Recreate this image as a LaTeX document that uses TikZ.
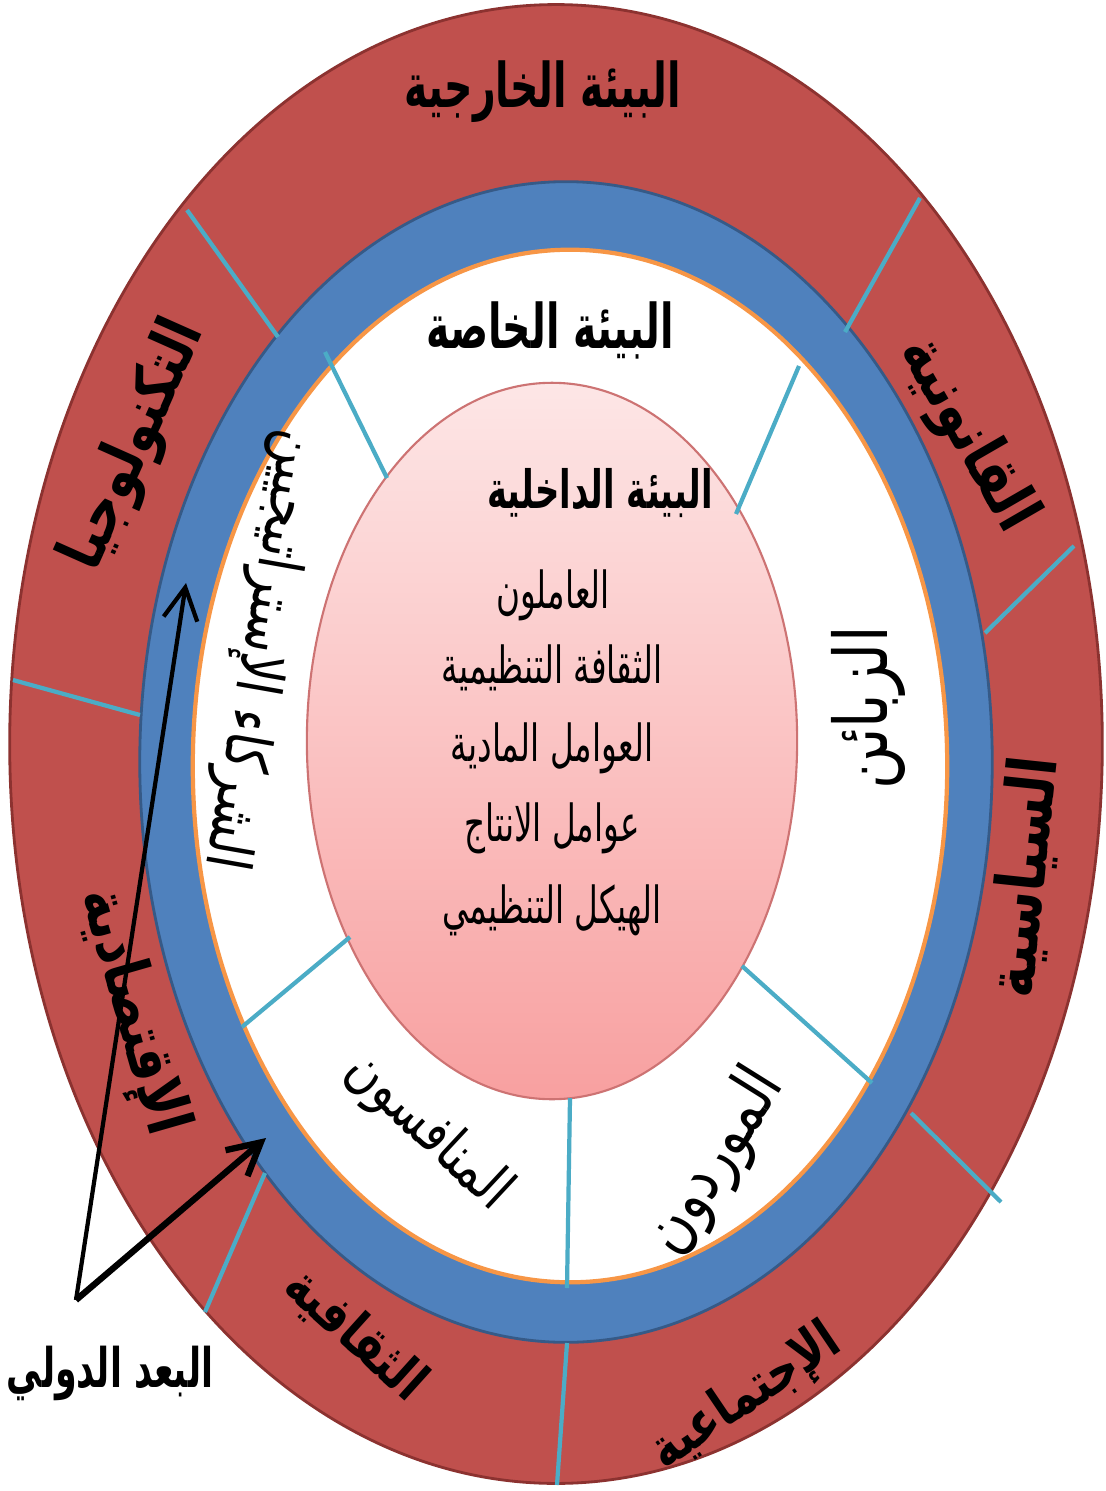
\documentclass[tikz,border=0pt]{standalone}
\usepackage{fontspec}
\usepackage{tikz}
\usetikzlibrary{arrows.meta}
\newfontfamily\arabicfont[Script=Arabic]{DejaVu Sans}
\newfontfamily\arabicmid[Script=Arabic, FakeStretch=0.8]{DejaVu Sans}
\newfontfamily\arabicnarrow[Script=Arabic, FakeStretch=0.64]{DejaVu Sans}
\TeXXeTstate=1
\definecolor{extred}{RGB}{192,80,77}
\definecolor{extedge}{RGB}{140,50,48}
\definecolor{ringblue}{RGB}{79,129,189}
\definecolor{ringedge}{RGB}{54,90,135}
\definecolor{ringorange}{RGB}{247,150,70}
\definecolor{divcyan}{RGB}{75,172,198}
\definecolor{pinktop}{RGB}{253,230,230}
\definecolor{pinkbot}{RGB}{248,160,160}
\definecolor{pinkedge}{RGB}{205,115,115}
\newcommand{\artext}[1]{\beginR #1\endR}
\tikzset{
  head/.style={font=\arabicnarrow\bfseries\fontsize{#1}{#1}\selectfont, inner sep=0pt},
  head/.default=17.5,
  seg/.style={font=\arabicmid\bfseries\fontsize{#1}{#1}\selectfont, inner sep=0pt},
  seg/.default=17,
  task/.style={font=\arabicmid\fontsize{#1}{#1}\selectfont, inner sep=0pt},
  task/.default=17,
  item/.style={font=\arabicnarrow\fontsize{14.5}{17}\selectfont, inner sep=0pt},
  divider/.style={draw=divcyan, line width=1.2pt},
  arr/.style={-{Straight Barb[length=3.2mm,width=3.4mm]}, line width=1.2pt}
}

\begin{document}
\begin{tikzpicture}[x=0.01cm, y=-0.01cm]
  \useasboundingbox (0,0) rectangle (1105,1491);
  % rings
  \filldraw[fill=extred, draw=extedge, line width=0.8pt] (556,744) ellipse [x radius=5.46cm, y radius=7.39cm];
  \filldraw[fill=ringblue, draw=ringedge, line width=0.8pt] (566,762) ellipse [x radius=4.26cm, y radius=5.80cm];
  \filldraw[fill=white, draw=ringorange, line width=1.2pt] (570,766) ellipse [x radius=3.77cm, y radius=5.16cm];
  \shadedraw[top color=pinktop, bottom color=pinkbot, draw=pinkedge, line width=0.6pt] (552,741) ellipse [x radius=2.45cm, y radius=3.58cm];
  % outer dividers
  \draw[divider] (187,210) -- (278,337);
  \draw[divider] (920,198) -- (845,332);
  \draw[divider] (1074,546) -- (985,633);
  \draw[divider] (911,1113) -- (1001,1202);
  \draw[divider] (567,1343) -- (557,1485);
  \draw[divider] (265,1173) -- (205,1312);
  \draw[divider] (13,680) -- (140,715);
  % inner dividers
  \draw[divider] (325,352) -- (387,478);
  \draw[divider] (799,366) -- (736,514);
  \draw[divider] (742,966) -- (872,1083);
  \draw[divider] (570,1098) -- (567,1288);
  \draw[divider] (350,937) -- (242,1027);
  % external environment
  \node[head] (ext) at (543,92) {\artext{البيئة الخارجية}};
  \node[seg=18, rotate=-60] (legal) at (967,435) {\artext{القانونية}};
  \node[seg=19, rotate=84] (pol) at (1025,877) {\artext{السياسية}};
  \node[seg=15.5, rotate=34] (soc) at (746,1398) {\artext{الإجتماعية}};
  \node[seg=15.5, rotate=-42] (cult) at (355,1335) {\artext{الثقافية}};
  \node[seg=18, rotate=-74] (econ) at (132,1012) {\artext{الإقتصادية}};
  \node[seg=18, rotate=66] (tech) at (135,445) {\artext{التكنولوجيا}};
  % task environment
  \node[head] (taskenv) at (550,330) {\artext{البيئة الخاصة}};
  \node[task=21, rotate=90] (cust) at (868,708) {\artext{الزبائن}};
  \node[task=19, rotate=58] (supp) at (716,1162) {\artext{الموردون}};
  \node[task=16.5, rotate=-43] (comp) at (428,1132) {\artext{المنافسون}};
  \node[task=17.5, rotate=-100] (part) at (260,650) {\artext{الشركاء الإستراتيجيين}};
  % internal environment
  \node[head=15] (int) at (600,493) {\artext{البيئة الداخلية}};
  \node[item] (staff) at (553,595) {\artext{العاملون}};
  \node[item] (orgcult) at (552,668) {\artext{الثقافة التنظيمية}};
  \node[item] (phys) at (552,748) {\artext{العوامل المادية}};
  \node[item] (prod) at (552,828) {\artext{عوامل الانتاج}};
  \node[item] (struct) at (552,910) {\artext{الهيكل التنظيمي}};
  % international dimension
  \node[head=15.5] (intl) at (110,1373) {\artext{البعد الدولي}};
  \coordinate (apex) at (76,1300);
  \coordinate (tipA) at (186,583);
  \coordinate (tipB) at (266,1138);
  \draw[arr] (apex) -- (tipA);
  \draw[arr, line width=1.8pt] (apex) -- (tipB);
\end{tikzpicture}
\end{document}
